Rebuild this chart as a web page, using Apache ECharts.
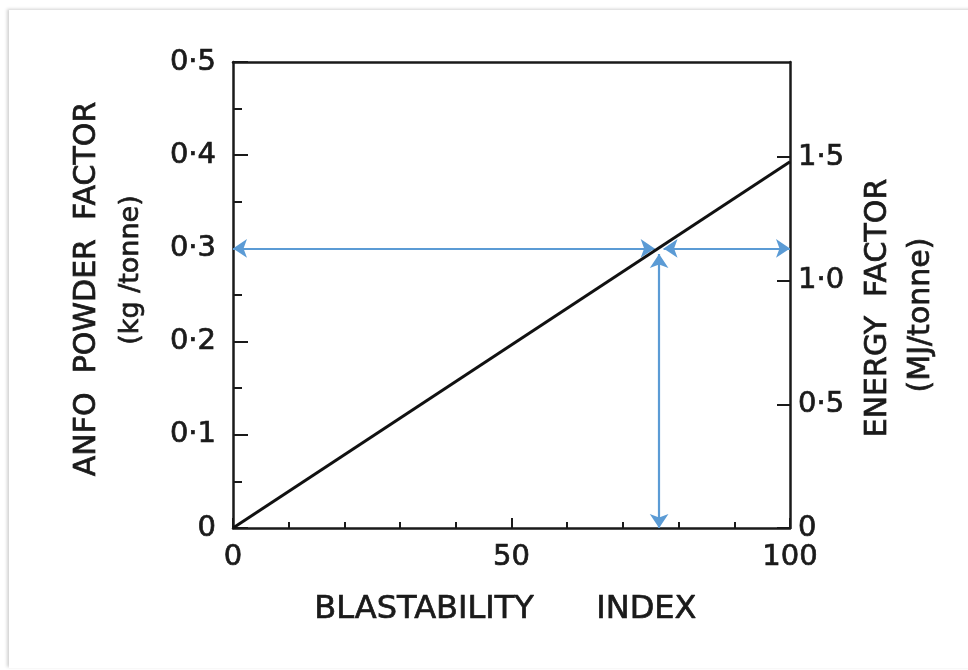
<!DOCTYPE html>
<html>
<head>
<meta charset="utf-8">
<script src="https://cdn.jsdelivr.net/npm/echarts@6/dist/echarts.min.js"></script>
<style>
  html, body { margin: 0; padding: 0; background: #ffffff; }
  #frame { position: absolute; left: 9px; top: 10px; width: 980px; height: 658px;
           box-shadow: -2px -1px 3px rgba(0,0,0,0.18); background: #ffffff; }
  #chart { position: absolute; left: 0; top: 0; width: 968px; height: 670px; }
</style>
</head>
<body>
<div id="frame"></div>
<div id="chart"></div>
<script>
// ---- data ----
const blastIndex = [0, 100];
const powderFactor = [0, 0.393];          // kg/tonne along the line
const xTickLabels = [0, 50, 100];
const leftTickLabels = ['0', '0·1', '0·2', '0·3', '0·4', '0·5'];
const rightTickValues = [0, 0.5, 1.0, 1.5];
const rightTickLabels = ['0', '0·5', '1·0', '1·5'];
const energyPerKg = 3.77;                  // MJ per kg ANFO (right axis scale)
const readX = [76.5];                      // blastability index read point
const readY = [0.3];                       // powder factor read point

const FONT = '"DejaVu Sans", Verdana, sans-serif';
const INK = '#1a1a1a';
const BLUE = '#5b9bd5';
const THICK = 0.7;

const chart = echarts.init(document.getElementById('chart'), null, { renderer: 'canvas' });

const lineData = blastIndex.map((x, i) => [x, powderFactor[i]]);
const rx = readX[0], ry = readY[0];
const arrowData = [
  { coords: [[0, ry], [rx - 0.8, ry]] },
  { coords: [[rx + 0.8, ry], [100, ry]] },
  { coords: [[rx, ry - 0.006], [rx, 0]] }
];

const yMax = 0.5;
const rightMax = yMax * energyPerKg;

const labelStyle = { fontSize: 29, color: INK, fontFamily: FONT,
                     textBorderColor: INK, textBorderWidth: THICK };

function title(text, opts, size) {
  return Object.assign({ type: 'text' }, opts, {
    style: Object.assign({ text: text, font: size + 'px ' + FONT, fill: INK,
                           stroke: INK, lineWidth: THICK }, opts.style || {})
  });
}

chart.setOption({
  animation: false,
  backgroundColor: 'transparent',
  grid: { left: 233, right: 178, top: 62, bottom: 142 },
  xAxis: [
    {
      type: 'value', min: 0, max: 100, interval: 50, position: 'bottom',
      axisLine: { onZero: false, lineStyle: { color: INK, width: 2.5 } },
      axisTick: { inside: true, length: 10, lineStyle: { color: INK, width: 2 } },
      minorTick: { show: true, splitNumber: 5, length: 6, lineStyle: { color: INK, width: 2 } },
      axisLabel: Object.assign({ margin: 15,
        formatter: v => (xTickLabels.indexOf(v) >= 0 ? String(v) : '') }, labelStyle),
      splitLine: { show: false }
    },
    {
      type: 'value', min: 0, max: 100, position: 'top',
      axisLine: { show: true, onZero: false, lineStyle: { color: INK, width: 2.5 } },
      axisTick: { show: false }, axisLabel: { show: false }, splitLine: { show: false }
    }
  ],
  yAxis: [
    {
      type: 'value', min: 0, max: yMax, interval: 0.1, position: 'left',
      axisLine: { show: true, onZero: false, lineStyle: { color: INK, width: 2.5 } },
      axisTick: { inside: true, length: 15, lineStyle: { color: INK, width: 2 } },
      minorTick: { show: true, splitNumber: 2, length: 9, lineStyle: { color: INK, width: 2 } },
      axisLabel: Object.assign({ margin: 17,
        formatter: v => leftTickLabels[Math.round(v * 10)] || '' }, labelStyle),
      splitLine: { show: false }
    },
    {
      type: 'value', min: 0, max: rightMax, interval: 0.5, position: 'right',
      axisLine: { show: true, onZero: false, lineStyle: { color: INK, width: 2.5 } },
      axisTick: { inside: true, length: 13, lineStyle: { color: INK, width: 2 } },
      axisLabel: Object.assign({ margin: 8, showMaxLabel: false,
        formatter: v => {
          const i = rightTickValues.findIndex(t => Math.abs(t - v) < 1e-6);
          return i >= 0 ? rightTickLabels[i] : '';
        } }, labelStyle),
      splitLine: { show: false }
    }
  ],
  series: [
    {
      type: 'line', data: lineData, xAxisIndex: 0, yAxisIndex: 0,
      showSymbol: false, lineStyle: { color: '#111111', width: 3 }
    },
    {
      type: 'lines', coordinateSystem: 'cartesian2d', xAxisIndex: 0, yAxisIndex: 0,
      data: arrowData, symbol: ['arrow', 'arrow'], symbolSize: 14,
      lineStyle: { color: BLUE, width: 2.2, opacity: 1 }
    }
  ],
  graphic: [
    title('BLASTABILITY', { left: 314, top: 593 }, 32),
    title('INDEX', { left: 596, top: 593 }, 32),
    title('ANFO  POWDER  FACTOR', { x: 87, y: 289, rotation: Math.PI / 2,
      style: { align: 'center', verticalAlign: 'middle' } }, 30),
    title('(kg /tonne)', { x: 131, y: 270, rotation: Math.PI / 2,
      style: { align: 'center', verticalAlign: 'middle' } }, 27),
    title('ENERGY  FACTOR', { x: 878, y: 308, rotation: Math.PI / 2,
      style: { align: 'center', verticalAlign: 'middle' } }, 30),
    title('(MJ/tonne)', { x: 921, y: 315, rotation: Math.PI / 2,
      style: { align: 'center', verticalAlign: 'middle' } }, 30)
  ]
});
</script>
</body>
</html>
